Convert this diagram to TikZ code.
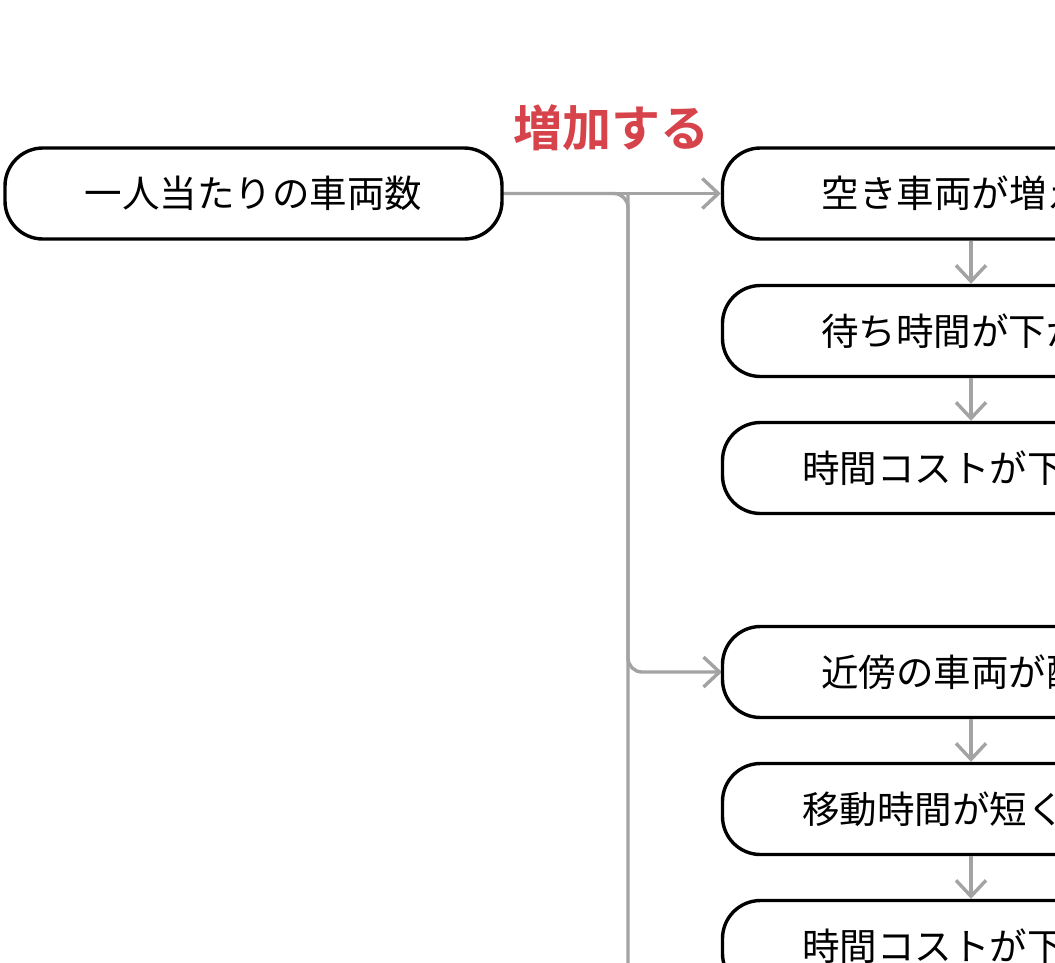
\documentclass[tikz,border=0pt]{standalone}
\usepackage{fontspec}
\setmainfont{Noto Sans CJK JP}
\newfontfamily\jpbold{Noto Sans CJK JP Bold}
\usetikzlibrary{arrows.meta}
\definecolor{conngray}{HTML}{A3A3A3}
\definecolor{labelred}{HTML}{D7434B}
\tikzset{
  box/.style={draw=black, line width=3.4pt, rounded corners=38pt, minimum width=497pt,
    minimum height=91pt, inner sep=0pt, font=\fontsize{37.5pt}{40pt}\selectfont, fill=white},
  conn/.style={draw=conngray, line width=3.4pt},
  tipconn/.style={conn, -{Straight Barb[length=16pt, width=30pt, line width=3.4pt]}},
}
\begin{document}
\begin{tikzpicture}[x=1pt, y=-1pt]
\useasboundingbox (0,0) rectangle (1055,962);
\clip (0,0) rectangle (1055,962);
\fill[white] (0,0) rectangle (1055,962);
% junction coordinates
\coordinate (j1) at (628,193.5);
\coordinate (j2) at (628,672);
\coordinate (bot) at (628,1010);
% connectors behind nodes
\draw[conn, rounded corners=14pt] (253.5,193.5) -- (j1) -- (bot);
\draw[tipconn, rounded corners=14pt] (j1) -- (j2) -- (722,672);
% nodes
\node[box] (L) at (253.5,193.5) {一人当たりの車両数};
\node[box] (R1) at (971,193.5) {空き車両が増える};
\node[box] (R2) at (971,331) {待ち時間が下がる};
\node[box] (R3) at (971,468) {時間コストが下がる};
\node[box] (R4) at (971,672) {近傍の車両が配車};
\node[box] (R5) at (971,809) {移動時間が短くなる};
\node[box] (R6) at (971,946) {時間コストが下がる};
\node[text=labelred, font=\jpbold\fontsize{49pt}{52pt}\selectfont] (lbl) at (611,128) {増加する};
% arrows
\draw[tipconn] (L.east) -- (R1.west);
\draw[tipconn] (R1.south) -- (R2.north);
\draw[tipconn] (R2.south) -- (R3.north);
\draw[tipconn] (R4.south) -- (R5.north);
\draw[tipconn] (R5.south) -- (R6.north);
\end{tikzpicture}
\end{document}
